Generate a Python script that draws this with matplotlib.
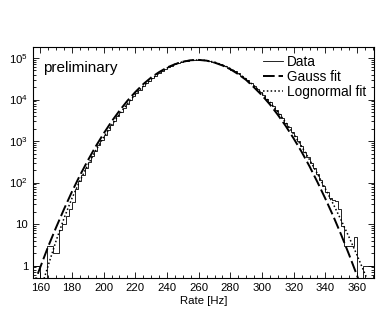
import numpy as np
import matplotlib
matplotlib.use("Agg")
import matplotlib.pyplot as plt
from matplotlib.ticker import FixedLocator, FixedFormatter, MultipleLocator, LogLocator, NullFormatter

plt.rcParams['font.family'] = ['Liberation Sans', 'DejaVu Sans']
plt.rcParams['mathtext.fontset'] = 'custom'
plt.rcParams['mathtext.rm'] = 'Liberation Sans'

# Histogram: 2 Hz bins, left edge of each bin and counts
bin_edges = list(range(156, 370, 2))
counts = [
    1, 1, 0, 0, 3, 3, 2, 2, 7, 10,                                   # 156-174
    16, 23, 34, 70, 110, 155, 219, 309, 427, 589,                    # 176-194
    791, 1062, 1406, 1837, 2399, 3076, 3945, 5012, 6310, 7943,       # 196-214
    9727, 11912, 14454, 17378, 20893, 24434, 28576, 33037, 37757, 43152,  # 216-234
    48195, 53827, 59429, 64863, 70795, 74820, 79068, 82604, 85310, 88105,  # 236-254
    88920, 89536, 88716, 88105, 87096, 83946, 80910, 77090, 72611, 68391,  # 256-274
    62951, 57943, 52723, 47424, 42658, 37497, 32961, 28708, 24774, 21380,  # 276-294
    18030, 15205, 12677, 10447, 8610, 6934, 5585, 4457, 3524, 2786,       # 296-314
    2163, 1679, 1288, 977, 741, 552, 411, 303, 222, 162,                  # 316-334
    116, 84, 60, 42, 38, 36, 23, 9, 3, 3,                                 # 336-354
    3, 5, 0, 0, 1, 1, 1,                                                  # 356-368
]

# Fit curves, log10 of counts read every 5 Hz
fit_rate = list(range(155, 371, 5))
gauss_log = [
    -0.55, -0.04, 0.46, 0.92, 1.36, 1.78, 2.17, 2.53, 2.87, 3.18,
    3.47, 3.73, 3.97, 4.18, 4.37, 4.53, 4.66, 4.77, 4.85, 4.91,
    4.946, 4.954, 4.936, 4.89, 4.82, 4.73, 4.61, 4.47, 4.29, 4.10,
    3.88, 3.63, 3.36, 3.06, 2.74, 2.39, 2.01, 1.61, 1.19, 0.74,
    0.26, -0.24, -0.77, -1.3,
]
lognorm_log = [
    -1.2, -0.6, 0.0, 0.60, 1.14, 1.62, 2.04, 2.42, 2.77, 3.09,
    3.38, 3.65, 3.90, 4.12, 4.32, 4.49, 4.635, 4.755, 4.85, 4.91,
    4.945, 4.954, 4.94, 4.90, 4.835, 4.745, 4.63, 4.49, 4.33, 4.145,
    3.935, 3.70, 3.445, 3.17, 2.87, 2.55, 2.21, 1.85, 1.48, 1.09,
    0.68, 0.25, -0.2, -0.66,
]

x_ticks = list(range(160, 361, 20))
y_ticks = [1, 10, 100, 1000, 10000, 100000]
y_labels = ['1', '10', r'$\mathregular{10^2}$', r'$\mathregular{10^3}$',
            r'$\mathregular{10^4}$', r'$\mathregular{10^5}$']

fig = plt.figure(figsize=(3.82, 3.14), dpi=100)
ax = fig.add_axes([0.086, 0.1146, 0.893, 0.7357])

# histogram as steps (empty bins pushed below the axis)
edges = np.array(bin_edges + [bin_edges[-1] + 2])
vals = np.array(counts, dtype=float)
vals = np.where(vals > 0, vals, 1e-2)
ax.stairs(vals, edges, color='black', linewidth=0.6, baseline=None, label='Data')

ax.plot(fit_rate, 10 ** np.array(gauss_log), color='black', linewidth=1.4,
        dashes=(6, 2), label='Gauss fit')
ax.plot(fit_rate, 10 ** np.array(lognorm_log), color='black', linewidth=1.1,
        linestyle=(0, (1, 1.5)), label='Lognormal fit')

ax.set_yscale('log')
ax.set_xlim(155.3, 370.7)
ax.set_ylim(0.50, 1.84e5)

ax.xaxis.set_major_locator(FixedLocator(x_ticks))
ax.xaxis.set_minor_locator(MultipleLocator(5))
ax.yaxis.set_major_locator(FixedLocator(y_ticks))
ax.yaxis.set_major_formatter(FixedFormatter(y_labels))
ax.yaxis.set_minor_locator(LogLocator(base=10, subs=np.arange(2, 10)))
ax.yaxis.set_minor_formatter(NullFormatter())

ax.tick_params(which='both', direction='in', top=True, right=True, labelsize=8.2, width=0.6)
ax.tick_params(which='major', length=4)
ax.tick_params(which='minor', length=2)
for axis in ['top', 'bottom', 'left', 'right']:
    ax.spines[axis].set_linewidth(0.8)

ax.set_xlabel('Rate [Hz]', fontsize=8.2, labelpad=2)
ax.text(0.03, 0.94, 'preliminary', transform=ax.transAxes, fontsize=11, va='top', ha='left')

ax.legend(loc='upper right', bbox_to_anchor=(1.0, 1.0), frameon=False, fontsize=9.8,
          handlelength=1.45, handletextpad=0.3, labelspacing=0.05, borderaxespad=0.2)

fig.savefig('out.png', dpi=100)
